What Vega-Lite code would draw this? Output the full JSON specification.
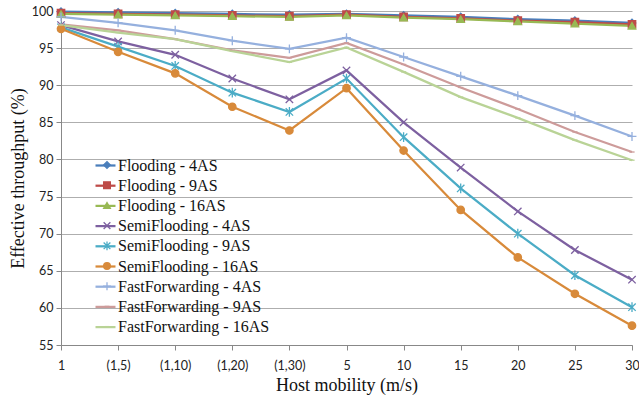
{
  "$schema": "https://vega.github.io/schema/vega-lite/v6.json",
  "width": 571,
  "height": 334,
  "autosize": {"type": "none"},
  "padding": {"left": 61, "top": 11, "right": 7, "bottom": 56},
  "background": "white",
  "config": {
    "view": {"stroke": null},
    "axis": {"labelFont": "Lato", "labelFontSize": 12.5, "labelColor": "#222222", "titleFont": "Liberation Serif", "titleFontWeight": "normal", "titleFontSize": 18, "titleColor": "#111111", "domainColor": "#888888", "tickColor": "#888888", "gridColor": "#AEAEAE"}
  },
  "data": {"values": [
    {"x": "1", "series": "Flooding - 4AS", "value": 99.9},
    {"x": "(1,5)", "series": "Flooding - 4AS", "value": 99.8},
    {"x": "(1,10)", "series": "Flooding - 4AS", "value": 99.7},
    {"x": "(1,20)", "series": "Flooding - 4AS", "value": 99.6},
    {"x": "(1,30)", "series": "Flooding - 4AS", "value": 99.5},
    {"x": "5", "series": "Flooding - 4AS", "value": 99.6},
    {"x": "10", "series": "Flooding - 4AS", "value": 99.4},
    {"x": "15", "series": "Flooding - 4AS", "value": 99.2},
    {"x": "20", "series": "Flooding - 4AS", "value": 98.9},
    {"x": "25", "series": "Flooding - 4AS", "value": 98.7},
    {"x": "30", "series": "Flooding - 4AS", "value": 98.4},
    {"x": "1", "series": "Flooding - 9AS", "value": 99.7},
    {"x": "(1,5)", "series": "Flooding - 9AS", "value": 99.6},
    {"x": "(1,10)", "series": "Flooding - 9AS", "value": 99.5},
    {"x": "(1,20)", "series": "Flooding - 9AS", "value": 99.4},
    {"x": "(1,30)", "series": "Flooding - 9AS", "value": 99.3},
    {"x": "5", "series": "Flooding - 9AS", "value": 99.5},
    {"x": "10", "series": "Flooding - 9AS", "value": 99.2},
    {"x": "15", "series": "Flooding - 9AS", "value": 99.0},
    {"x": "20", "series": "Flooding - 9AS", "value": 98.7},
    {"x": "25", "series": "Flooding - 9AS", "value": 98.5},
    {"x": "30", "series": "Flooding - 9AS", "value": 98.2},
    {"x": "1", "series": "Flooding - 16AS", "value": 99.6},
    {"x": "(1,5)", "series": "Flooding - 16AS", "value": 99.5},
    {"x": "(1,10)", "series": "Flooding - 16AS", "value": 99.4},
    {"x": "(1,20)", "series": "Flooding - 16AS", "value": 99.3},
    {"x": "(1,30)", "series": "Flooding - 16AS", "value": 99.2},
    {"x": "5", "series": "Flooding - 16AS", "value": 99.4},
    {"x": "10", "series": "Flooding - 16AS", "value": 99.1},
    {"x": "15", "series": "Flooding - 16AS", "value": 98.9},
    {"x": "20", "series": "Flooding - 16AS", "value": 98.6},
    {"x": "25", "series": "Flooding - 16AS", "value": 98.3},
    {"x": "30", "series": "Flooding - 16AS", "value": 98.0},
    {"x": "1", "series": "SemiFlooding - 4AS", "value": 98.1},
    {"x": "(1,5)", "series": "SemiFlooding - 4AS", "value": 95.9},
    {"x": "(1,10)", "series": "SemiFlooding - 4AS", "value": 94.1},
    {"x": "(1,20)", "series": "SemiFlooding - 4AS", "value": 90.9},
    {"x": "(1,30)", "series": "SemiFlooding - 4AS", "value": 88.1},
    {"x": "5", "series": "SemiFlooding - 4AS", "value": 92.0},
    {"x": "10", "series": "SemiFlooding - 4AS", "value": 85.0},
    {"x": "15", "series": "SemiFlooding - 4AS", "value": 78.9},
    {"x": "20", "series": "SemiFlooding - 4AS", "value": 73.0},
    {"x": "25", "series": "SemiFlooding - 4AS", "value": 67.8},
    {"x": "30", "series": "SemiFlooding - 4AS", "value": 63.8},
    {"x": "1", "series": "SemiFlooding - 9AS", "value": 97.8},
    {"x": "(1,5)", "series": "SemiFlooding - 9AS", "value": 95.2},
    {"x": "(1,10)", "series": "SemiFlooding - 9AS", "value": 92.6},
    {"x": "(1,20)", "series": "SemiFlooding - 9AS", "value": 89.0},
    {"x": "(1,30)", "series": "SemiFlooding - 9AS", "value": 86.4},
    {"x": "5", "series": "SemiFlooding - 9AS", "value": 90.9},
    {"x": "10", "series": "SemiFlooding - 9AS", "value": 83.0},
    {"x": "15", "series": "SemiFlooding - 9AS", "value": 76.1},
    {"x": "20", "series": "SemiFlooding - 9AS", "value": 70.0},
    {"x": "25", "series": "SemiFlooding - 9AS", "value": 64.4},
    {"x": "30", "series": "SemiFlooding - 9AS", "value": 60.1},
    {"x": "1", "series": "SemiFlooding - 16AS", "value": 97.6},
    {"x": "(1,5)", "series": "SemiFlooding - 16AS", "value": 94.5},
    {"x": "(1,10)", "series": "SemiFlooding - 16AS", "value": 91.6},
    {"x": "(1,20)", "series": "SemiFlooding - 16AS", "value": 87.1},
    {"x": "(1,30)", "series": "SemiFlooding - 16AS", "value": 83.9},
    {"x": "5", "series": "SemiFlooding - 16AS", "value": 89.6},
    {"x": "10", "series": "SemiFlooding - 16AS", "value": 81.2},
    {"x": "15", "series": "SemiFlooding - 16AS", "value": 73.2},
    {"x": "20", "series": "SemiFlooding - 16AS", "value": 66.8},
    {"x": "25", "series": "SemiFlooding - 16AS", "value": 61.9},
    {"x": "30", "series": "SemiFlooding - 16AS", "value": 57.6},
    {"x": "1", "series": "FastForwarding - 4AS", "value": 99.2},
    {"x": "(1,5)", "series": "FastForwarding - 4AS", "value": 98.4},
    {"x": "(1,10)", "series": "FastForwarding - 4AS", "value": 97.4},
    {"x": "(1,20)", "series": "FastForwarding - 4AS", "value": 96.0},
    {"x": "(1,30)", "series": "FastForwarding - 4AS", "value": 94.9},
    {"x": "5", "series": "FastForwarding - 4AS", "value": 96.4},
    {"x": "10", "series": "FastForwarding - 4AS", "value": 93.8},
    {"x": "15", "series": "FastForwarding - 4AS", "value": 91.2},
    {"x": "20", "series": "FastForwarding - 4AS", "value": 88.6},
    {"x": "25", "series": "FastForwarding - 4AS", "value": 85.9},
    {"x": "30", "series": "FastForwarding - 4AS", "value": 83.1},
    {"x": "1", "series": "FastForwarding - 9AS", "value": 98.2},
    {"x": "(1,5)", "series": "FastForwarding - 9AS", "value": 97.4},
    {"x": "(1,10)", "series": "FastForwarding - 9AS", "value": 96.2},
    {"x": "(1,20)", "series": "FastForwarding - 9AS", "value": 94.7},
    {"x": "(1,30)", "series": "FastForwarding - 9AS", "value": 93.7},
    {"x": "5", "series": "FastForwarding - 9AS", "value": 95.7},
    {"x": "10", "series": "FastForwarding - 9AS", "value": 92.8},
    {"x": "15", "series": "FastForwarding - 9AS", "value": 89.7},
    {"x": "20", "series": "FastForwarding - 9AS", "value": 86.8},
    {"x": "25", "series": "FastForwarding - 9AS", "value": 83.7},
    {"x": "30", "series": "FastForwarding - 9AS", "value": 81.0},
    {"x": "1", "series": "FastForwarding - 16AS", "value": 98.1},
    {"x": "(1,5)", "series": "FastForwarding - 16AS", "value": 97.1},
    {"x": "(1,10)", "series": "FastForwarding - 16AS", "value": 96.2},
    {"x": "(1,20)", "series": "FastForwarding - 16AS", "value": 94.6},
    {"x": "(1,30)", "series": "FastForwarding - 16AS", "value": 93.1},
    {"x": "5", "series": "FastForwarding - 16AS", "value": 95.1},
    {"x": "10", "series": "FastForwarding - 16AS", "value": 91.8},
    {"x": "15", "series": "FastForwarding - 16AS", "value": 88.4},
    {"x": "20", "series": "FastForwarding - 16AS", "value": 85.6},
    {"x": "25", "series": "FastForwarding - 16AS", "value": 82.6},
    {"x": "30", "series": "FastForwarding - 16AS", "value": 79.9}
  ]},
  "encoding": {
    "x": {"field": "x", "type": "ordinal", "title": "Host mobility (m/s)",
      "scale": {"type": "point", "padding": 0, "domain": ["1", "(1,5)", "(1,10)", "(1,20)", "(1,30)", "5", "10", "15", "20", "25", "30"]},
      "axis": {"labelAngle": 0, "tickSize": 5, "labelPadding": 9, "titlePadding": 5, "grid": false}},
    "y": {"field": "value", "type": "quantitative", "title": "Effective throughput (%)",
      "scale": {"domain": [55, 100], "nice": false, "zero": false},
      "axis": {"values": [55, 60, 65, 70, 75, 80, 85, 90, 95, 100], "tickSize": 5, "labelPadding": 3, "titlePadding": 4, "grid": true}}
  },
  "layer": [
    {
      "mark": {"type": "line", "strokeWidth": 2.25},
      "encoding": {
        "color": {"field": "series", "type": "nominal",
          "scale": {"domain": ["Flooding - 4AS", "Flooding - 9AS", "Flooding - 16AS", "SemiFlooding - 4AS", "SemiFlooding - 9AS", "SemiFlooding - 16AS", "FastForwarding - 4AS", "FastForwarding - 9AS", "FastForwarding - 16AS", "zz"],
            "range": ["#4A7EBB", "#BE4B48", "#98B954", "#7D60A0", "#4BACC6", "#D88A3A", "#95B0DE", "#CD9B9A", "#B9D396", "#999999"]},
          "legend": {"title": null, "orient": "none", "legendX": 33, "legendY": 143,
            "values": ["Flooding - 4AS", "Flooding - 9AS", "Flooding - 16AS", "SemiFlooding - 4AS", "SemiFlooding - 9AS", "SemiFlooding - 16AS", "FastForwarding - 4AS", "FastForwarding - 9AS", "FastForwarding - 16AS"],
            "symbolType": "stroke", "symbolSize": 400, "symbolStrokeWidth": 2.25, "labelFont": "Liberation Serif", "labelFontSize": 16, "labelColor": "#111111", "labelOffset": 1, "rowPadding": 0.2, "labelLimit": 300}}
      }
    },
    {
      "mark": {"type": "point", "size": 55, "strokeWidth": 1.3, "opacity": 1},
      "encoding": {
        "fill": {"field": "series", "type": "nominal",
          "scale": {"domain": ["Flooding - 4AS", "Flooding - 9AS", "Flooding - 16AS", "SemiFlooding - 4AS", "SemiFlooding - 9AS", "SemiFlooding - 16AS", "FastForwarding - 4AS", "FastForwarding - 9AS", "FastForwarding - 16AS"],
            "range": ["#4A7EBB", "#BE4B48", "#98B954", "#7D60A0", "#4BACC6", "#D88A3A", "#95B0DE", "#CD9B9A", "#B9D396"]},
          "legend": {"title": null, "orient": "none", "legendX": 38, "legendY": 146,
            "symbolSize": 45, "symbolStrokeWidth": 1.3, "labelFont": "Liberation Serif", "labelFontSize": 16, "labelExpr": "''", "labelOffset": 2, "rowPadding": 4.2, "labelLimit": 300}},
        "stroke": {"field": "series", "type": "nominal",
          "scale": {"domain": ["Flooding - 4AS", "Flooding - 9AS", "Flooding - 16AS", "SemiFlooding - 4AS", "SemiFlooding - 9AS", "SemiFlooding - 16AS", "FastForwarding - 4AS", "FastForwarding - 9AS", "FastForwarding - 16AS"],
            "range": ["#4A7EBB", "#BE4B48", "#98B954", "#7D60A0", "#4BACC6", "#D88A3A", "#95B0DE", "#CD9B9A", "#B9D396"]},
          "legend": {"title": null, "orient": "none", "legendX": 38, "legendY": 146,
            "symbolSize": 45, "symbolStrokeWidth": 1.3, "labelFont": "Liberation Serif", "labelFontSize": 16, "labelExpr": "''", "labelOffset": 2, "rowPadding": 4.2, "labelLimit": 300}},
        "shape": {"field": "series", "type": "nominal",
          "scale": {"domain": ["Flooding - 4AS", "Flooding - 9AS", "Flooding - 16AS", "SemiFlooding - 4AS", "SemiFlooding - 9AS", "SemiFlooding - 16AS", "FastForwarding - 4AS", "FastForwarding - 9AS", "FastForwarding - 16AS"],
            "range": ["diamond", "square", "triangle-up", "M-1,-1L1,1M-1,1L1,-1", "M-1,-1L1,1M-1,1L1,-1M0,-1.3L0,1.3", "circle", "M-1.2,0L1.2,0M0,-1.2L0,1.2", "M-0.7,0L0.7,0", "M-0.7,0L0.7,0"]},
          "legend": {"title": null, "orient": "none", "legendX": 38, "legendY": 146,
            "symbolSize": 45, "symbolStrokeWidth": 1.3, "labelFont": "Liberation Serif", "labelFontSize": 16, "labelExpr": "''", "labelOffset": 2, "rowPadding": 4.2, "labelLimit": 300}}
      }
    }
  ]
}
